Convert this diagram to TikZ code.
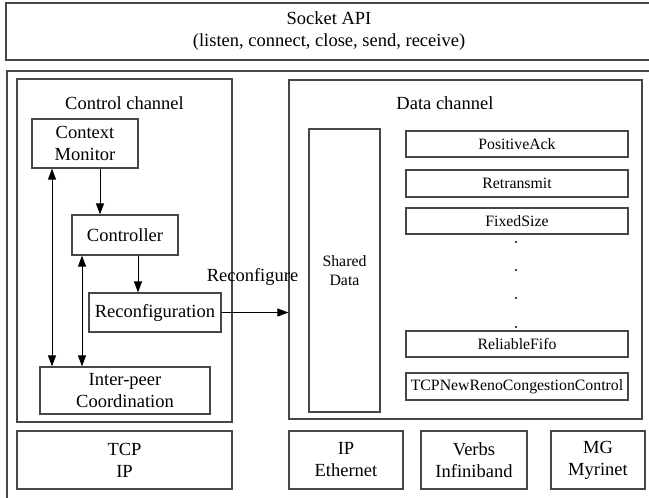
\documentclass[tikz,border=0pt]{standalone}
\usepackage{fontspec}
\setmainfont{Liberation Serif}
\usetikzlibrary{arrows.meta}
\begin{document}
\begin{tikzpicture}[x=1pt,y=-1pt,
  box/.style={draw=gray!55!black, line width=1.2pt, rectangle, inner sep=0pt, align=center,
    font=\fontsize{18.5}{22}\selectfont},
  sbox/.style={box, font=\fontsize{15.8}{19.5}\selectfont},
  lbl/.style={inner sep=0pt, font=\fontsize{18.5}{22}\selectfont},
  arr/.style={black, line width=1pt, -{Triangle[length=11pt,width=8pt]}},
  darr/.style={black, line width=1pt, {Triangle[length=11pt,width=8pt]}-{Triangle[length=11pt,width=8pt]}},
  dot/.style={circle, fill=black, inner sep=0pt, minimum size=2.2pt}]
\useasboundingbox (0,0) rectangle (649,498);
\clip (0,0) rectangle (649,498);
% top and outer frames
\node[box, minimum width=646pt, minimum height=57pt] (api) at (329,31.5)
  {Socket API\\(listen, connect, close, send, receive)};
\node[box, minimum width=645pt, minimum height=431pt] (outer) at (329.5,286.5) {};
% control channel
\node[box, minimum width=215pt, minimum height=343pt] (ctrl) at (124.5,250.5) {};
\node[lbl] (ctrllbl) at (124.5,103) {Control channel};
\node[box, minimum width=106pt, minimum height=49pt] (ctx) at (85,143.5) {Context\\Monitor};
\node[box, minimum width=106pt, minimum height=40pt] (con) at (125,235) {Controller};
\node[box, minimum width=132pt, minimum height=39pt] (rec) at (155,312.5) {Reconfiguration};
\node[box, minimum width=170pt, minimum height=47pt] (ipc) at (125,390.5) {Inter-peer\\Coordination};
% data channel
\node[box, minimum width=353pt, minimum height=339pt] (data) at (465.5,249.5) {};
\node[lbl] (datalbl) at (445,103) {Data channel};
\node[sbox, minimum width=71pt, minimum height=283pt] (shared) at (344.5,270.5) {Shared\\Data};
\node[sbox, minimum width=222pt, minimum height=26pt] (pack) at (517,144) {PositiveAck};
\node[sbox, minimum width=222pt, minimum height=27pt] (retr) at (517,183.5) {Retransmit};
\node[sbox, minimum width=222pt, minimum height=26pt] (fix) at (517,221) {FixedSize};
\node[sbox, minimum width=222pt, minimum height=26pt] (rel) at (517,344) {ReliableFifo};
\node[sbox, minimum width=222pt, minimum height=27pt] (tcpnr) at (517,386.5) {TCPNewRenoCongestionControl};
\node[dot] (d1) at (516,242) {};
\node[dot] (d2) at (516,270) {};
\node[dot] (d3) at (516,298) {};
\node[dot] (d4) at (516,327) {};
% bottom transports
\node[box, minimum width=215pt, minimum height=58pt] (tcp) at (124.5,460) {TCP\\IP};
\node[box, minimum width=114pt, minimum height=58pt] (eth) at (346,460) {IP\\Ethernet};
\node[box, minimum width=106pt, minimum height=58pt] (ib) at (474,460) {Verbs\\Infiniband};
\node[box, minimum width=94pt, minimum height=58pt] (myr) at (598,460) {MG\\Myrinet};
% connectors
\draw[arr] (ctx.south -| 100,0) -- (con.north -| 100,0);
\draw[arr] (con.south -| 138,0) -- (rec.north -| 138,0);
\draw[darr] (ctx.south -| 52,0) -- (ipc.north -| 52,0);
\draw[darr] (con.south -| 82,0) -- (ipc.north -| 82,0);
\draw[arr] (rec.east) -- (rec.east -| data.west);
\node[lbl] (reclbl) at (252.5,277) {Reconfigure};
\end{tikzpicture}
\end{document}
